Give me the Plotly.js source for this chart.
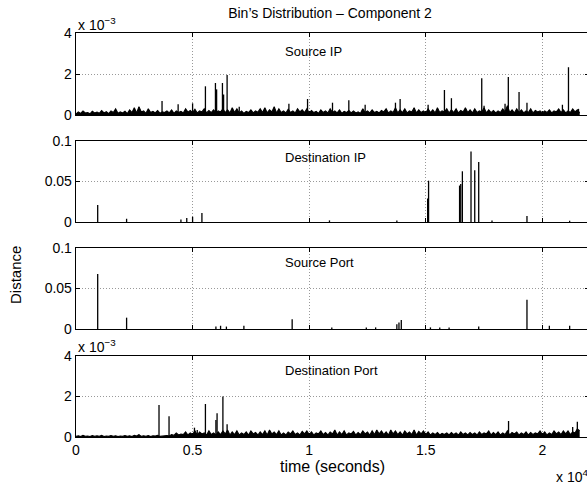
<!DOCTYPE html>
<html><head><meta charset="utf-8">
<script src="https://cdn.plot.ly/plotly-3.0.1.min.js"></script>
<style>html,body{margin:0;padding:0;overflow:hidden;background:#fff}</style>
</head><body><div id="chart"></div>
<script>
// Sampling step of the background series (seconds)
const sampleStep = 100;

// Panel 1: Source IP (units of 1e-3)
const srcIpNoise = [
0.05,0.15,0.08,0.2,0.1,0.12,0.06,0.18,0.1,0.14,
0.08,0.22,0.1,0.16,0.07,0.2,0.12,0.3,0.09,0.15,
0.1,0.18,0.07,0.25,0.12,0.35,0.1,0.4,0.15,0.2,
0.08,0.3,0.12,0.18,0.1,0.22,0.09,0.15,0.12,0.2,
0.1,0.25,0.08,0.2,0.12,0.18,0.1,0.3,0.14,0.22,
0.12,0.28,0.1,0.2,0.15,0.3,0.1,0.22,0.12,0.25,
0.1,0.2,0.15,0.3,0.12,0.25,0.1,0.35,0.12,0.3,
0.1,0.2,0.08,0.18,0.12,0.25,0.1,0.2,0.14,0.3,
0.12,0.35,0.1,0.25,0.15,0.4,0.1,0.3,0.12,0.2,
0.1,0.28,0.12,0.2,0.1,0.3,0.15,0.25,0.12,0.3,
0.1,0.22,0.12,0.18,0.08,0.25,0.12,0.2,0.1,0.3,
0.12,0.2,0.1,0.25,0.08,0.18,0.12,0.22,0.1,0.2,
0.1,0.15,0.08,0.3,0.12,0.2,0.1,0.25,0.12,0.18,
0.1,0.22,0.15,0.3,0.1,0.2,0.12,0.35,0.1,0.25,
0.12,0.3,0.1,0.2,0.15,0.35,0.1,0.25,0.12,0.2,
0.1,0.3,0.12,0.25,0.1,0.35,0.12,0.2,0.15,0.3,
0.1,0.25,0.12,0.3,0.1,0.22,0.15,0.35,0.12,0.25,
0.1,0.3,0.12,0.2,0.15,0.35,0.1,0.25,0.12,0.22,
0.1,0.2,0.12,0.3,0.15,0.45,0.12,0.25,0.1,0.3,
0.12,0.25,0.1,0.2,0.12,0.3,0.1,0.22,0.15,0.2,
0.1,0.2,0.12,0.25,0.1,0.2,0.15,0.3,0.12,0.25,
0.1,0.2,0.12,0.3,0.15,0.25,0.1];
const srcIpSpikeT = [3690,4380,5000,5550,5980,6030,6280,6330,6480,7000,9130,9930,11000,11700,12400,13700,13900,15100,15800,16100,17400,17500,18400,18540,19000,19340,20860,21120,21550];
const srcIpSpikeV = [0.68,0.53,0.57,1.4,1.56,1.25,1.56,1.0,1.95,0.4,0.55,0.78,0.6,0.72,0.5,0.6,0.78,0.5,1.22,0.82,1.79,0.45,0.55,1.85,1.12,0.6,0.5,2.33,0.3];

// Panel 2: Destination IP
const dstIpSpikeT = [930,2170,4500,4750,5000,5400,10870,13760,15080,15120,16450,16500,16570,16940,17100,17270,17840,19340,21170];
const dstIpSpikeV = [0.021,0.004,0.003,0.005,0.0065,0.011,0.002,0.002,0.029,0.051,0.045,0.047,0.0626,0.087,0.064,0.074,0.002,0.0074,0.0015];

// Panel 3: Source Port
const srcPortSpikeT = [930,2170,6000,6200,6450,7200,9270,10970,12450,12850,13760,13850,13950,15200,15600,16000,17270,19340,20300,21170];
const srcPortSpikeV = [0.068,0.014,0.003,0.004,0.003,0.004,0.012,0.002,0.002,0.002,0.006,0.008,0.011,0.002,0.002,0.002,0.003,0.036,0.004,0.004];

// Panel 4: Destination Port (units of 1e-3)
const dstPortNoise = [
0.03,0.06,0.02,0.08,0.04,0.05,0.02,0.07,0.03,0.06,
0.04,0.08,0.02,0.05,0.03,0.07,0.04,0.06,0.02,0.05,
0.03,0.07,0.04,0.06,0.02,0.08,0.05,0.12,0.03,0.06,
0.04,0.07,0.02,0.06,0.05,0.08,0.03,0.05,0.04,0.07,
0.05,0.12,0.08,0.2,0.1,0.15,0.12,0.25,0.1,0.2,
0.12,0.3,0.1,0.25,0.15,0.2,0.1,0.3,0.12,0.2,
0.1,0.25,0.12,0.3,0.15,0.35,0.1,0.25,0.12,0.3,
0.1,0.2,0.12,0.25,0.1,0.3,0.15,0.22,0.1,0.25,
0.12,0.3,0.1,0.35,0.15,0.25,0.12,0.3,0.1,0.2,
0.1,0.25,0.15,0.3,0.12,0.2,0.1,0.28,0.15,0.3,
0.12,0.25,0.1,0.2,0.15,0.3,0.12,0.22,0.1,0.25,
0.15,0.35,0.1,0.25,0.12,0.3,0.1,0.2,0.15,0.28,
0.1,0.22,0.12,0.3,0.15,0.25,0.1,0.3,0.12,0.35,
0.15,0.3,0.12,0.25,0.1,0.35,0.15,0.3,0.12,0.25,
0.1,0.3,0.15,0.25,0.12,0.35,0.1,0.28,0.15,0.3,
0.12,0.25,0.1,0.2,0.12,0.22,0.1,0.18,0.12,0.2,
0.1,0.22,0.12,0.2,0.1,0.25,0.12,0.2,0.1,0.22,
0.12,0.2,0.1,0.25,0.12,0.2,0.15,0.3,0.1,0.22,
0.12,0.25,0.1,0.2,0.12,0.3,0.1,0.22,0.15,0.25,
0.1,0.2,0.12,0.25,0.1,0.22,0.12,0.2,0.15,0.3,
0.12,0.25,0.1,0.2,0.12,0.3,0.15,0.25,0.12,0.3,
0.15,0.3,0.12,0.25,0.2,0.4,0.3];
const dstPortSpikeT = [3560,3990,5080,5200,5550,6000,6050,6300,6480,18550,21300,21500];
const dstPortSpikeV = [1.58,1.02,0.46,0.35,1.63,0.84,1.17,2.0,0.63,0.79,0.5,0.75];

// Axis tick labels
const xTickVals = [0,5000,10000,15000,20000];
const xTickText = ['0','0.5','1','1.5','2'];
const smallTickVals = [0,2,4];
const smallTickText = ['0','2','4'];
const bigTickVals = [0,0.05,0.1];
const bigTickText = ['0','0.05','0.1'];
const panelNames = ['Source IP','Destination IP','Source Port','Destination Port'];

function noiseTrace(vals, xa, ya){
  return {x: vals.map((v,i)=>i*sampleStep), y: vals, xaxis: xa, yaxis: ya,
    type:'scatter', mode:'lines', line:{color:'#000', width:1.1}, fill:'tozeroy', fillcolor:'#000', hoverinfo:'skip'};
}
function spikeTrace(ts, vs, xa, ya){
  const x=[], y=[];
  ts.forEach((t,i)=>{ x.push(t,t,null); y.push(0,vs[i],null); });
  return {x, y, xaxis: xa, yaxis: ya, type:'scatter', mode:'lines',
    line:{color:'#000', width:1.3}, hoverinfo:'skip', connectgaps:false};
}

const data = [
  noiseTrace(srcIpNoise,'x','y'),
  spikeTrace(srcIpSpikeT, srcIpSpikeV,'x','y'),
  spikeTrace(dstIpSpikeT, dstIpSpikeV,'x2','y2'),
  spikeTrace(srcPortSpikeT, srcPortSpikeV,'x3','y3'),
  noiseTrace(dstPortNoise,'x4','y4'),
  spikeTrace(dstPortSpikeT, dstPortSpikeV,'x4','y4')
];

const FONT = 'Liberation Sans, Arial, Helvetica, sans-serif';
const GRID = {showgrid:true, gridcolor:'#999', griddash:'1px,2px', gridwidth:1, zeroline:false};
function xax(anchor, showLabels){
  return Object.assign({anchor, domain:[0,1], range:[0,22000], tickvals:xTickVals, ticktext:xTickText,
    showticklabels: showLabels, ticks:'inside', ticklen:4, tickcolor:'#000', tickwidth:1,
    showline:true, linecolor:'#000', linewidth:1.3, mirror:'ticks',
    tickfont:{family:FONT, size:14, color:'#000'}, fixedrange:true}, GRID);
}
function yax(domain, range, tv, tt){
  return Object.assign({domain, range, tickvals:tv, ticktext:tt, ticks:'inside', ticklen:4, tickcolor:'#000',
    showline:true, linecolor:'#000', linewidth:1.3, mirror:'ticks',
    tickfont:{family:FONT, size:14, color:'#000'}, fixedrange:true}, GRID);
}

const B = 437, H = 404; // pixel helpers for paper coordinates
const py = p => (B - p)/H;
const px = p => (p - 76)/513;

const layout = {
  width:590, height:489, margin:{l:76, r:1, t:33, b:52},
  paper_bgcolor:'#fff', plot_bgcolor:'#fff', showlegend:false,
  font:{family:FONT, color:'#000'},
  title:{text:"Bin’s Distribution – Component 2", font:{family:FONT, size:14, color:'#000'},
    xref:'paper', x:px(330), xanchor:'center', yref:'container', y:1-13/489, yanchor:'middle'},
  xaxis: xax('y', false),
  xaxis2: Object.assign(xax('y2', false), {matches:'x'}),
  xaxis3: Object.assign(xax('y3', false), {matches:'x'}),
  xaxis4: Object.assign(xax('y4', true), {matches:'x',
    title:{text:'time (seconds)', font:{family:FONT, size:16, color:'#000'}, standoff:3}}),
  yaxis: yax([py(115), 1], [0,4], smallTickVals, smallTickText),
  yaxis2: yax([py(222), py(141)], [0,0.1], bigTickVals, bigTickText),
  yaxis3: yax([py(329), py(248)], [0,0.1], bigTickVals, bigTickText),
  yaxis4: yax([0, py(356)], [0,4], smallTickVals, smallTickText),
  annotations: [
    {text:'x 10<sup>−3</sup>', xref:'paper', yref:'paper', x:px(76), y:py(24), xanchor:'left', yanchor:'middle', showarrow:false, font:{family:FONT, size:14, color:'#000'}},
    {text:'x 10<sup>−3</sup>', xref:'paper', yref:'paper', x:px(76), y:py(346), xanchor:'left', yanchor:'middle', showarrow:false, font:{family:FONT, size:14, color:'#000'}},
    {text:'x 10<sup>4</sup>', xref:'paper', yref:'paper', x:px(554), y:py(476), xanchor:'left', yanchor:'middle', showarrow:false, font:{family:FONT, size:14, color:'#000'}},
    {text:'Distance', xref:'paper', yref:'paper', x:px(15), y:py(275), xanchor:'center', yanchor:'middle', textangle:-90, showarrow:false, font:{family:FONT, size:15, color:'#000'}},
    {text:panelNames[0], xref:'paper', yref:'paper', x:px(283), y:py(51), xanchor:'left', yanchor:'middle', showarrow:false, font:{family:FONT, size:13, color:'#000'}},
    {text:panelNames[1], xref:'paper', yref:'paper', x:px(283), y:py(157), xanchor:'left', yanchor:'middle', showarrow:false, font:{family:FONT, size:13, color:'#000'}},
    {text:panelNames[2], xref:'paper', yref:'paper', x:px(283), y:py(262), xanchor:'left', yanchor:'middle', showarrow:false, font:{family:FONT, size:13, color:'#000'}},
    {text:panelNames[3], xref:'paper', yref:'paper', x:px(283), y:py(370), xanchor:'left', yanchor:'middle', showarrow:false, font:{family:FONT, size:13, color:'#000'}}
  ]
};

Plotly.newPlot('chart', data, layout, {displayModeBar:false, staticPlot:true});
</script></body></html>
